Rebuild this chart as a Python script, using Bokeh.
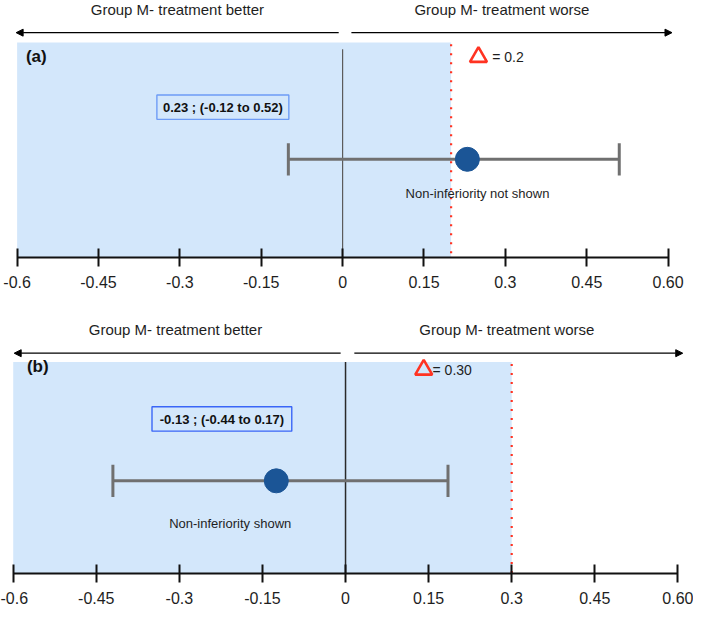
from bokeh.plotting import figure
from bokeh.models import Range1d, FixedTicker, Arrow, NormalHead
from bokeh.layouts import column
from bokeh.core.properties import value
from bokeh.embed import file_html
from bokeh.resources import INLINE

# ---------------- data ----------------
panel_tags = ["(a)", "(b)"]
estimates = [0.23, -0.125]
ci_lower = [-0.10, -0.42]
ci_upper = [0.51, 0.185]
margins = [0.2, 0.3]
ci_labels = ["0.23 ; (-0.12 to 0.52)", "-0.13 ; (-0.44 to 0.17)"]
margin_labels = ["= 0.2", "= 0.30"]
verdicts = ["Non-inferiority not shown", "Non-inferiority shown"]
header_labels = ["Group M- treatment better", "Group M- treatment worse"]
tick_values = [-0.6, -0.45, -0.3, -0.15, 0, 0.15, 0.3, 0.45, 0.6]
tick_labels = ["-0.6", "-0.45", "-0.3", "-0.15", "0", "0.15", "0.3", "0.45", "0.60"]

# ---------------- layout (reference pixel positions) ----------------
REF_W, REF_H = 709, 623
FIG_W = 693
FIG_HS = [310, 297]
KX = FIG_W / REF_W
KY = sum(FIG_HS) / REF_H
FONT = "Liberation Sans"
TEXT_C = "#1e1e1e"
SHADE = "#d3e7fb"
RED = "#ff3322"
DOT_BLUE = "#1b5596"
CI_GREY = "#707070"

panel_layout = [
    dict(lo_px=17, hi_px=683, zero_px=350, axis_y=264,
         header_y=9, header_px=[181, 513], arrow_y=33, arrow_px=[(346, 16), (359, 687)],
         shade_top=43, zero_top=50, zero_color="#5c5c5c", zero_w=1.2,
         tag_px=26, tag_y=57,
         box_px=(160, 295), box_y=(97, 122), box_color="#6e9cf6", box_text_y=110,
         ci_y=163, cap=33, verdict_px=488, verdict_y=198,
         delta_px=489, delta_y=58, delta_text_px=503),
    dict(lo_px=13, hi_px=693, zero_px=353, axis_y=588,
         header_y=338, header_px=[179, 518], arrow_y=362, arrow_px=[(348, 14), (362, 698)],
         shade_top=371, zero_top=371, zero_color="#2a2a2a", zero_w=1.5,
         tag_px=27, tag_y=376,
         box_px=(155, 298), box_y=(417, 442), box_color="#3a66f7", box_text_y=430,
         ci_y=493, cap=33, verdict_px=235, verdict_y=537,
         delta_px=433, delta_y=379, delta_text_px=442),
]


def build_panel(i, ref_top, fig_h):
    L = panel_layout[i]
    scale = (L["hi_px"] - L["lo_px"]) / (tick_values[-1] - tick_values[0])

    def dx(px):
        return (px - L["zero_px"]) / scale

    frame_h = round((L["axis_y"] - ref_top) * KY)
    p = figure(width=FIG_W, height=fig_h, output_backend="svg", toolbar_location=None,
               x_range=Range1d(dx(0), dx(REF_W)),
               y_range=Range1d(ref_top + frame_h / KY, ref_top),
               y_axis_location=None, min_border_left=0, min_border_right=0,
               min_border_top=0, min_border_bottom=fig_h - frame_h)
    p.outline_line_color = None
    p.grid.visible = False
    p.background_fill_color = "white"
    p.border_fill_color = "white"

    # axis
    ax = p.xaxis[0]
    ax.ticker = FixedTicker(ticks=tick_values)
    ax.major_label_overrides = {v: s for v, s in zip(tick_values, tick_labels)}
    ax.bounds = (tick_values[0], tick_values[-1])
    ax.axis_line_width = 2
    ax.axis_line_color = "#111111"
    ax.major_tick_line_width = 2
    ax.major_tick_line_color = "#111111"
    ax.major_tick_in = 9
    ax.major_tick_out = 9
    ax.minor_tick_line_color = None
    ax.major_label_standoff = 9
    ax.major_label_text_font = FONT
    ax.major_label_text_font_size = "16px"
    ax.major_label_text_color = TEXT_C

    # shaded region up to the margin
    p.quad(left=tick_values[0], right=margins[i], top=L["shade_top"], bottom=L["axis_y"],
           fill_color=SHADE, line_color=None)
    # zero line
    p.segment(x0=0, x1=0, y0=L["zero_top"], y1=L["axis_y"],
              line_color=L["zero_color"], line_width=L["zero_w"])
    # margin line
    p.segment(x0=margins[i], x1=margins[i], y0=L["shade_top"] + 2, y1=L["axis_y"],
              line_color=RED, line_width=2.2, line_dash="2 7")

    # headers with arrows
    for (x0, x1) in L["arrow_px"]:
        p.add_layout(Arrow(end=NormalHead(size=7, fill_color="black", line_color="black"),
                           x_start=dx(x0), y_start=L["arrow_y"], x_end=dx(x1), y_end=L["arrow_y"],
                           line_color="black", line_width=1.3))
    p.text(x=[dx(v) for v in L["header_px"]], y=[L["header_y"]] * 2, text=header_labels,
           text_font=value(FONT), text_font_size="15px", text_color=TEXT_C,
           text_align="center", text_baseline="middle")

    # panel tag
    p.text(x=[dx(L["tag_px"])], y=[L["tag_y"]], text=[panel_tags[i]],
           text_font=value(FONT), text_font_size="17px", text_font_style="bold",
           text_color="#111111", text_align="left", text_baseline="middle")

    # estimate box
    bx0, bx1 = L["box_px"]
    by0, by1 = L["box_y"]
    p.quad(left=dx(bx0), right=dx(bx1), top=by0, bottom=by1, fill_color=None,
           line_color=L["box_color"], line_width=1.4)
    p.text(x=[dx((bx0 + bx1) / 2)], y=[L["box_text_y"]], text=[ci_labels[i]],
           text_font=value(FONT), text_font_size="13px", text_font_style="bold",
           text_color="#111111", text_align="center", text_baseline="middle")

    # confidence interval
    cy = L["ci_y"]
    half = L["cap"] / 2
    p.segment(x0=ci_lower[i], x1=ci_upper[i], y0=cy, y1=cy, line_color=CI_GREY, line_width=3)
    p.segment(x0=[ci_lower[i], ci_upper[i]], x1=[ci_lower[i], ci_upper[i]],
              y0=[cy - half] * 2, y1=[cy + half] * 2, line_color=CI_GREY, line_width=3)
    p.scatter(x=[estimates[i]], y=[cy], size=24, fill_color=DOT_BLUE, line_color=DOT_BLUE)

    # verdict
    p.text(x=[dx(L["verdict_px"])], y=[L["verdict_y"]], text=[verdicts[i]],
           text_font=value(FONT), text_font_size="13px", text_color=TEXT_C,
           text_align="center", text_baseline="middle")

    # delta marker and label
    p.scatter(x=[dx(L["delta_px"])], y=[L["delta_y"]], marker="triangle", size=17,
              fill_color=None, line_color=RED, line_width=2.6)
    p.text(x=[dx(L["delta_text_px"])], y=[L["delta_y"]], text=[margin_labels[i]],
           text_font=value(FONT), text_font_size="14px", text_color=TEXT_C,
           text_align="left", text_baseline="middle")
    return p


pa = build_panel(0, 0.0, FIG_HS[0])
pb = build_panel(1, FIG_HS[0] / KY, FIG_HS[1])
layout = column(pa, pb, spacing=0)

open("out.html", "w").write(file_html(layout, INLINE))
